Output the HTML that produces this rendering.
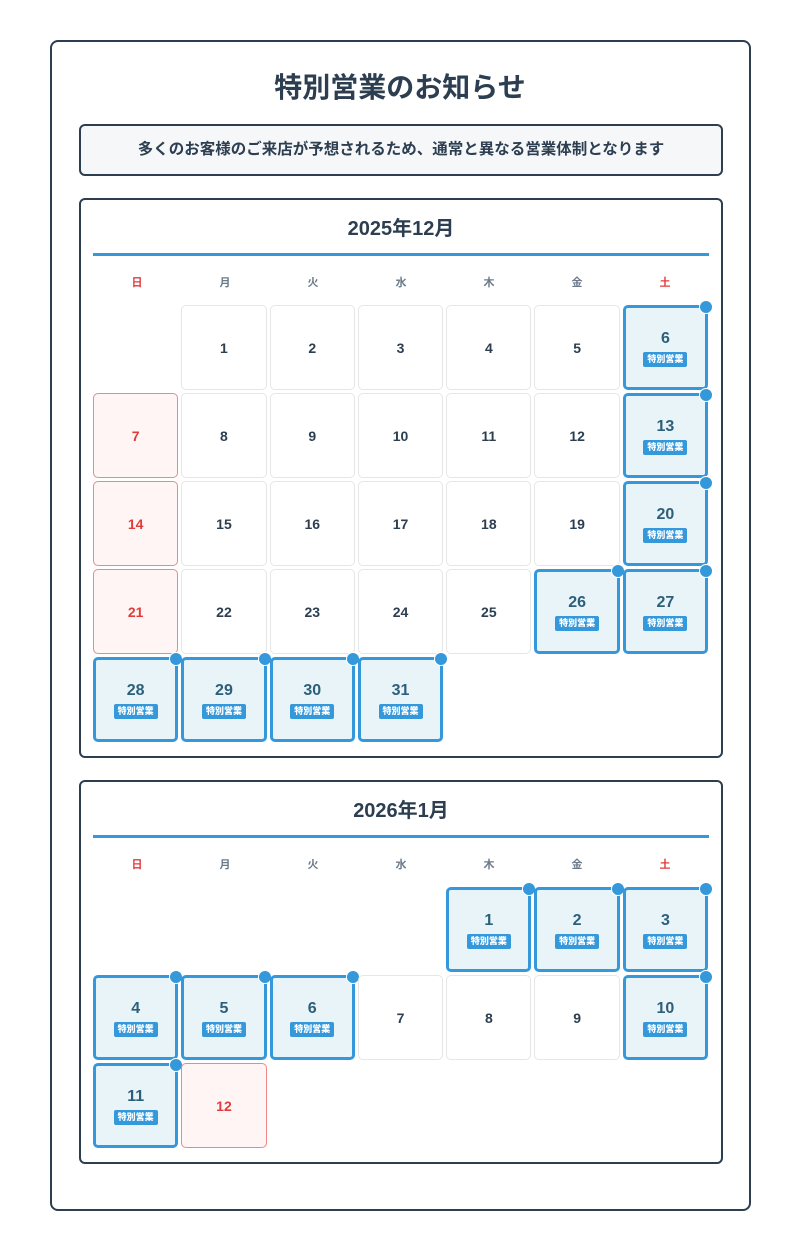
<!DOCTYPE html>
<html><head><meta charset="utf-8"><style>
*{box-sizing:border-box;margin:0;padding:0}
body{width:800px;height:1250px;background:#fff;font-family:"Liberation Sans","Noto Sans CJK JP",sans-serif;color:#2c3e50;position:relative}
.outer{position:absolute;left:50px;top:40px;width:701px;height:1171px;border:2px solid #2c3e50;border-radius:8px}
h1{position:absolute;left:0;width:100%;top:70px;text-align:center;font-size:28px;font-weight:bold;line-height:36px}
.notice{position:absolute;left:79px;top:124px;width:644px;height:52px;border:2px solid #2c3e50;border-radius:6px;background:#f5f7f9;text-align:center;font-size:15.5px;font-weight:bold;line-height:48px}
.cal{position:absolute;left:79px;width:644px;border:2px solid #2c3e50;border-radius:6px;background:#fff}
.mt{position:absolute;left:0;width:100%;top:14px;text-align:center;font-size:20px;font-weight:bold;line-height:30px}
.line{position:absolute;left:12px;width:616px;top:53px;height:3px;background:#3498db}
.wd{position:absolute;left:12px;top:74px;width:616px;display:grid;grid-template-columns:repeat(7,1fr);font-size:11px;text-align:center;color:#6b7a89;font-weight:bold}
.wd .s{color:#e03c3c}
.grid{position:absolute;left:12px;top:105px;width:616px;display:grid;grid-template-columns:repeat(7,85.3px);grid-auto-rows:85px;gap:3px}
.c{border:1px solid #e6e6e6;border-radius:5px;display:flex;flex-direction:column;align-items:center;justify-content:center;font-size:14px;font-weight:bold;position:relative}
.e{border:none}
.su{background:#fff5f5;border-color:#e88;color:#e03c3c}
.sp{background:#e8f4f8;border:3px solid #3498db;color:#2c5f7a;font-size:16px;padding-top:2px}
.sp b{display:block;margin-top:4px;background:#3498db;color:#fff;font-size:9px;padding:2px 4px;border-radius:2px;line-height:11px}
.sp:after{content:"";position:absolute;right:-8px;top:-8px;width:12px;height:12px;border-radius:50%;background:#3498db;border:1px solid #fff}
</style></head><body>
<div class="outer"></div>
<h1>特別営業のお知らせ</h1>
<div class="notice">多くのお客様のご来店が予想されるため、通常と異なる営業体制となります</div>

<div class="cal" style="top:198px;height:560px">
<div class="mt">2025年12月</div><div class="line"></div>
<div class="wd"><span class="s">日</span><span>月</span><span>火</span><span>水</span><span>木</span><span>金</span><span class="s">土</span></div>
<div class="grid">
<div class="c e"></div><div class="c">1</div><div class="c">2</div><div class="c">3</div><div class="c">4</div><div class="c">5</div><div class="c sp">6<b>特別営業</b></div>
<div class="c su">7</div><div class="c">8</div><div class="c">9</div><div class="c">10</div><div class="c">11</div><div class="c">12</div><div class="c sp">13<b>特別営業</b></div>
<div class="c su">14</div><div class="c">15</div><div class="c">16</div><div class="c">17</div><div class="c">18</div><div class="c">19</div><div class="c sp">20<b>特別営業</b></div>
<div class="c su">21</div><div class="c">22</div><div class="c">23</div><div class="c">24</div><div class="c">25</div><div class="c sp">26<b>特別営業</b></div><div class="c sp">27<b>特別営業</b></div>
<div class="c sp">28<b>特別営業</b></div><div class="c sp">29<b>特別営業</b></div><div class="c sp">30<b>特別営業</b></div><div class="c sp">31<b>特別営業</b></div>
</div></div>

<div class="cal" style="top:780px;height:384px">
<div class="mt">2026年1月</div><div class="line"></div>
<div class="wd"><span class="s">日</span><span>月</span><span>火</span><span>水</span><span>木</span><span>金</span><span class="s">土</span></div>
<div class="grid">
<div class="c e"></div><div class="c e"></div><div class="c e"></div><div class="c e"></div><div class="c sp">1<b>特別営業</b></div><div class="c sp">2<b>特別営業</b></div><div class="c sp">3<b>特別営業</b></div>
<div class="c sp">4<b>特別営業</b></div><div class="c sp">5<b>特別営業</b></div><div class="c sp">6<b>特別営業</b></div><div class="c">7</div><div class="c">8</div><div class="c">9</div><div class="c sp">10<b>特別営業</b></div>
<div class="c sp">11<b>特別営業</b></div><div class="c su">12</div>
</div></div>
</body></html>
